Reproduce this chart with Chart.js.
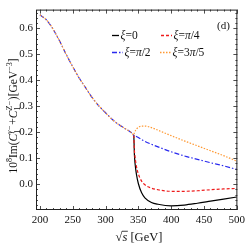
<!DOCTYPE html>
<html><head><meta charset="utf-8">
<script src="https://cdn.jsdelivr.net/npm/chart.js@4/dist/chart.umd.min.js"></script>
<style>html,body{margin:0;padding:0;background:#fff}</style>
</head><body>
<canvas id="c" width="249" height="249" style="width:249px;height:249px;display:block"></canvas>
<script>
// ---- data ----
const commonS = [200,210,220,230,240,250,260,270,280,290,300,310,320,330,340,343];
const commonVals = [0.652,0.632,0.597,0.551,0.500,0.452,0.408,0.370,0.332,0.301,0.275,0.250,0.230,0.214,0.197,0.189];
const branchS = [344,345,347,350,355,360,370,380,400,420,440,460,480,500];
const xi0Vals   = [0.115,0.080,0.040,0.003,-0.033,-0.052,-0.070,-0.077,-0.083,-0.080,-0.073,-0.065,-0.057,-0.049];
const xiPi4Vals = [0.130,0.105,0.070,0.040,0.012,-0.002,-0.015,-0.021,-0.027,-0.027,-0.025,-0.021,-0.018,-0.016];
const xiPi2Vals = [0.188,0.186,0.184,0.180,0.172,0.165,0.154,0.144,0.125,0.109,0.096,0.083,0.071,0.057];
const xi3Pi5Vals= [0.198,0.204,0.212,0.219,0.224,0.224,0.218,0.208,0.187,0.167,0.148,0.129,0.110,0.089];
const seriesLabels = ['ξ=0','ξ=π/4','ξ=π/2','ξ=3π/5'];
const xTicks = [200,250,300,350,400,450,500];
const yTicks = [0.0,0.1,0.2,0.3,0.4,0.5,0.6];
const panelLabel = '(d)';

const SERIF = '"Liberation Serif", "DejaVu Serif", serif';
const styles = [
  {color:'#000000', dash:[], order:3, hideCommon:true},
  {color:'#ee1c1c', dash:[3,2], order:2, hideCommon:true},
  {color:'#2a2aee', dash:[5,2,1.5,2], order:1, hideCommon:false},
  {color:'#ff9933', dash:[1.5,1.5], order:0, hideCommon:false}
];
const branchStart = commonS[commonS.length-1];
function mk(vals){
  return commonS.map((s,i)=>({x:s,y:commonVals[i]})).concat(branchS.map((s,i)=>({x:s,y:vals[i]})));
}
const allVals=[xi0Vals,xiPi4Vals,xiPi2Vals,xi3Pi5Vals];
const datasets = allVals.map((v,i)=>({
  label: seriesLabels[i], data: mk(v), order: styles[i].order,
  borderColor: styles[i].color, borderDash: styles[i].dash,
  borderWidth: 1.2, pointRadius: 0, fill:false,
  cubicInterpolationMode:'monotone',
  segment: styles[i].hideCommon ? {
    borderColor: c => (c.p1.parsed.x <= branchStart ? 'rgba(0,0,0,0)' : styles[i].color)
  } : undefined
}));

function richWidth(ctx, ops, size){
  let w=0;
  for(const o of ops){
    if(o.sub!==undefined){
      ctx.font = (size*0.7)+'px '+SERIF;
      const a=ctx.measureText(o.sub).width;
      ctx.font = (o.itSup?'italic ':'')+(size*0.7)+'px '+SERIF;
      const b=ctx.measureText(o.sup).width;
      w+=Math.max(a,b)+0.5;
    } else {
      ctx.font=(o.it?'italic ':'')+(size*(o.sc||1))+'px '+SERIF;
      w+=ctx.measureText(o.t).width;
    }
  }
  return w;
}
function richDraw(ctx, ops, size, x, y){
  for(const o of ops){
    if(o.sub!==undefined){
      ctx.font = (size*0.7)+'px '+SERIF;
      const a=ctx.measureText(o.sub).width;
      ctx.fillText(o.sub, x, y+size*0.28);
      ctx.font = (o.itSup?'italic ':'')+(size*0.7)+'px '+SERIF;
      const b=ctx.measureText(o.sup).width;
      ctx.fillText(o.sup, x, y-size*0.42);
      x+=Math.max(a,b)+0.5;
    } else {
      ctx.font=(o.it?'italic ':'')+(size*(o.sc||1))+'px '+SERIF;
      ctx.fillText(o.t, x, y+(o.sh||0)*size);
      x+=ctx.measureText(o.t).width;
    }
  }
  return x;
}

const decor = {
  id:'decor',
  afterDraw(chart){
    const ctx=chart.ctx, a=chart.chartArea, xs=chart.scales.x, ys=chart.scales.y;
    ctx.save();
    ctx.strokeStyle='#222'; ctx.lineWidth=1; ctx.setLineDash([]);
    ctx.strokeRect(a.left+0.5,a.top+0.5,a.right-a.left-1,a.bottom-a.top-1);
    ctx.lineWidth=0.8;
    ctx.beginPath();
    for(let v=200; v<=500; v+=10){
      const px=Math.round(xs.getPixelForValue(v))+0.5;
      const L = (v%50===0)?4:2;
      ctx.moveTo(px,a.bottom); ctx.lineTo(px,a.bottom-L);
      ctx.moveTo(px,a.top); ctx.lineTo(px,a.top+L);
    }
    for(let k=-4; k<=33; k++){
      const v=k*0.02;
      const py=Math.round(ys.getPixelForValue(v))+0.5;
      const L=(k%5===0)?4:2;
      ctx.moveTo(a.left,py); ctx.lineTo(a.left+L,py);
      ctx.moveTo(a.right,py); ctx.lineTo(a.right-L,py);
    }
    ctx.stroke();
    ctx.fillStyle='#111'; ctx.textBaseline='alphabetic'; ctx.textAlign='left';
    ctx.font='11px '+SERIF;
    ctx.fillText(panelLabel, 217, 29);
    const lsz=11.5;
    const legendItems=[
      {x:112, y:35, w:7, ops:[{t:'ξ',it:true},{t:'=0'}]},
      {x:161, y:35, w:11, ops:[{t:'ξ',it:true},{t:'='},{t:'π',it:true},{t:'/4'}]},
      {x:112, y:52, w:11, ops:[{t:'ξ',it:true},{t:'='},{t:'π',it:true},{t:'/2'}]},
      {x:160, y:52, w:11, ops:[{t:'ξ',it:true},{t:'=3'},{t:'π',it:true},{t:'/5'}]}
    ];
    legendItems.forEach((it,i)=>{
      ctx.strokeStyle=styles[i].color; ctx.lineWidth=1.3; ctx.setLineDash(styles[i].dash);
      ctx.beginPath(); ctx.moveTo(it.x,it.y+0.5); ctx.lineTo(it.x+it.w,it.y+0.5); ctx.stroke();
      ctx.setLineDash([]);
      ctx.fillStyle='#111';
      richDraw(ctx, it.ops, lsz, it.x+it.w+1.5, it.y+4);
    });
    const xsz=12.5;
    ctx.font=xsz+'px '+SERIF;
    const rw=ctx.measureText('√').width;
    ctx.font='italic '+xsz+'px '+SERIF;
    const sw=ctx.measureText('s').width;
    ctx.font=xsz+'px '+SERIF;
    const gw=ctx.measureText(' [GeV]').width;
    const tot=rw+sw+gw;
    let x0=139-tot/2, yb=241;
    ctx.fillText('√',x0,yb);
    ctx.font='italic '+xsz+'px '+SERIF;
    ctx.fillText('s',x0+rw,yb);
    ctx.strokeStyle='#111'; ctx.lineWidth=0.8;
    ctx.beginPath(); ctx.moveTo(x0+rw-0.5,yb-xsz*0.78); ctx.lineTo(x0+rw+sw+0.5,yb-xsz*0.78); ctx.stroke();
    ctx.font=xsz+'px '+SERIF;
    ctx.fillText(' [GeV]',x0+rw+sw,yb);
    const ysz=11.5;
    const yops=[{t:'10'},{t:'8',sc:0.7,sh:-0.4},{t:'Im('},{t:'C',it:true},{sub:'1',sup:'γ−',itSup:true},
      {t:'+'},{t:'C',it:true},{sub:'1',sup:'Z−',itSup:true},{t:')[GeV'},{t:'−3',sc:0.7,sh:-0.4},{t:']'}];
    const tw=richWidth(ctx,yops,ysz);
    ctx.translate(16.5,116);
    ctx.rotate(-Math.PI/2);
    richDraw(ctx,yops,ysz,-tw/2,0);
    ctx.restore();
  }
};

new Chart(document.getElementById('c'),{
  type:'line',
  data:{datasets},
  options:{
    responsive:false, animation:false, devicePixelRatio:1,
    layout:{padding:{top:2,right:6,left:0,bottom:0}},
    plugins:{legend:{display:false},tooltip:{enabled:false}},
    scales:{
      x:{type:'linear',min:194,max:501,
        afterBuildTicks:s=>{s.ticks=xTicks.map(v=>({value:v}));},
        afterFit:s=>{s.height=39;},
        grid:{display:false,drawTicks:false},border:{display:false},
        ticks:{padding:4,color:'#111',font:{family:SERIF,size:11},maxRotation:0,autoSkip:false}
      },
      y:{type:'linear',min:-0.099,max:0.672,
        afterBuildTicks:s=>{s.ticks=yTicks.map(v=>({value:v}));},
        afterFit:s=>{s.width=36;},
        grid:{display:false,drawTicks:false},border:{display:false},
        ticks:{padding:3,color:'#111',font:{family:SERIF,size:11},callback:v=>v.toFixed(1),autoSkip:false}
      }
    }
  },
  plugins:[decor]
});
</script>
</body></html>
